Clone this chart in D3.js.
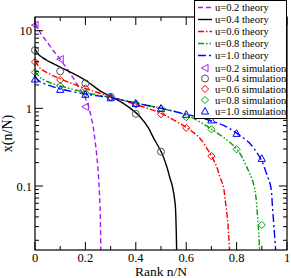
<!DOCTYPE html>
<html><head><meta charset="utf-8">
<script src="https://cdn.jsdelivr.net/npm/d3@7"></script>
<style>body{margin:0;background:#fff}svg{display:block}text{font-family:"Liberation Serif","Times New Roman",serif}</style>
</head><body><div id="c"></div>
<script>
// ---- data ----
const xTicks = [0, 0.2, 0.4, 0.6, 0.8, 1];
const xTickLabels = ["0", "0.2", "0.4", "0.6", "0.8", "1"];
const yTicks = [0.1, 1, 10];
const yTickLabels = ["0.1", "1", "10"];
const seriesNames = ["u=0.2", "u=0.4", "u=0.6", "u=0.8", "u=1.0"];

const theory02_r = [0, 0.025, 0.05, 0.075, 0.1, 0.125, 0.15, 0.175, 0.2, 0.21, 0.22, 0.23, 0.238, 0.245, 0.251, 0.255, 0.258, 0.26, 0.261];
const theory02_x = [12.5, 9.0, 7.0, 5.4, 4.3, 3.3, 2.5, 1.85, 1.35, 1.12, 0.85, 0.6, 0.39, 0.25, 0.147, 0.09, 0.054, 0.03, 0.015];

const theory04_r = [0, 0.015, 0.03, 0.05, 0.1, 0.2, 0.258, 0.3, 0.349, 0.4, 0.417, 0.45, 0.468, 0.503, 0.523, 0.536, 0.545, 0.556, 0.56, 0.562];
const theory04_x = [5.8, 4.9, 4.5, 4.1, 3.4, 2.3, 1.68, 1.42, 1.17, 0.88, 0.78, 0.56, 0.43, 0.266, 0.177, 0.125, 0.1, 0.06, 0.03, 0.015];

const theory06_r = [0, 0.02, 0.05, 0.1, 0.2, 0.3, 0.4, 0.5, 0.6, 0.628, 0.655, 0.694, 0.72, 0.734, 0.747, 0.755, 0.763, 0.769, 0.772];
const theory06_x = [4.1, 3.3, 2.85, 2.4, 1.8, 1.42, 1.12, 0.86, 0.57, 0.49, 0.41, 0.264, 0.18, 0.13, 0.1, 0.065, 0.04, 0.022, 0.015];

const theory08_r = [0, 0.02, 0.05, 0.1, 0.2, 0.3, 0.4, 0.5, 0.6, 0.7, 0.8, 0.846, 0.866, 0.875, 0.882, 0.888, 0.891];
const theory08_x = [3.0, 2.5, 2.2, 1.95, 1.6, 1.38, 1.17, 1.0, 0.82, 0.54, 0.3, 0.16, 0.11, 0.08, 0.045, 0.025, 0.015];

const theory10_r = [0, 0.02, 0.05, 0.1, 0.2, 0.3, 0.4, 0.5, 0.6, 0.68, 0.75, 0.8, 0.85, 0.88, 0.9, 0.92, 0.935, 0.943, 0.95, 0.955];
const theory10_x = [2.55, 2.2, 2.0, 1.78, 1.53, 1.37, 1.17, 1.0, 0.84, 0.72, 0.6, 0.48, 0.36, 0.27, 0.21, 0.14, 0.1, 0.05, 0.025, 0.015];

const sim02_r = [0, 0.1, 0.2];
const sim02_x = [11.8, 4.3, 1.05];
const sim04_r = [0, 0.1, 0.2, 0.3, 0.4, 0.5];
const sim04_x = [5.6, 3.0, 2.1, 1.41, 0.85, 0.277];
const sim06_r = [0, 0.1, 0.2, 0.3, 0.4, 0.5, 0.6, 0.7];
const sim06_x = [3.95, 2.32, 1.81, 1.38, 1.12, 0.84, 0.56, 0.243];
const sim08_r = [0, 0.1, 0.2, 0.3, 0.4, 0.5, 0.6, 0.7, 0.8, 0.9];
const sim08_x = [2.91, 1.94, 1.56, 1.38, 1.16, 1.0, 0.77, 0.537, 0.297, 0.0315];
const sim10_r = [0, 0.1, 0.2, 0.3, 0.4, 0.5, 0.6, 0.7, 0.8, 0.9];
const sim10_x = [2.39, 1.76, 1.52, 1.37, 1.16, 1.0, 0.84, 0.71, 0.477, 0.227];

// ---- layout ----
const W = 291, H = 278;
const m = {l: 35, r: 4, t: 17, b: 28};
const svg = d3.select("#c").append("svg").attr("width", W).attr("height", H);
const x = d3.scaleLinear().domain([0, 1]).range([m.l, W - m.r]);
const y = d3.scaleLog().domain([0.015, 15]).range([H - m.b, m.t]);

const colors = ["#a020f0", "#000000", "#ff0000", "#00a000", "#0000ff"];
const dashes = ["5,3", null, "6,2,1.5,2", "6,2,1.5,2,1.5,2", "8,3,2,3"];
const theory = [
  [theory02_r, theory02_x], [theory04_r, theory04_x], [theory06_r, theory06_x],
  [theory08_r, theory08_x], [theory10_r, theory10_x]
];
const sims = [
  [sim02_r, sim02_x], [sim04_r, sim04_x], [sim06_r, sim06_x],
  [sim08_r, sim08_x], [sim10_r, sim10_x]
];
const symbols = ["triLeft", "circle", "diamond", "diamond", "triUp"];

function markerPath(type, s) {
  const h = s;
  if (type === "triLeft") return `M${-h},0L${h*0.85},${-h}L${h*0.85},${h}Z`;
  if (type === "triUp") return `M0,${-h}L${h},${h*0.85}L${-h},${h*0.85}Z`;
  if (type === "diamond") return `M0,${-h}L${h},0L0,${h}L${-h},0Z`;
  return null;
}
function drawMarker(g, type, cx, cy, color) {
  if (type === "circle") {
    g.append("circle").attr("cx", cx).attr("cy", cy).attr("r", 3.5)
      .attr("fill", "none").attr("stroke", "#555").attr("stroke-width", 1);
  } else {
    g.append("path").attr("d", markerPath(type, 3.6))
      .attr("transform", `translate(${cx},${cy})`)
      .attr("fill", "none").attr("stroke", color).attr("stroke-width", 1);
  }
}

svg.append("clipPath").attr("id", "clp").append("rect")
  .attr("x", m.l).attr("y", m.t).attr("width", W - m.l - m.r).attr("height", H - m.t - m.b);

const plot = svg.append("g").attr("clip-path", "url(#clp)");
const line = d3.line().x(d => x(d[0])).y(d => y(d[1])).curve(d3.curveCatmullRom.alpha(0.5));

theory.forEach((t, i) => {
  const pts = t[0].map((r, j) => [r, t[1][j]]);
  plot.append("path").datum(pts).attr("d", line)
    .attr("fill", "none").attr("stroke", colors[i]).attr("stroke-width", 1.4)
    .attr("stroke-dasharray", dashes[i]);
});
sims.forEach((s, i) => {
  s[0].forEach((r, j) => drawMarker(svg, symbols[i], x(r), y(s[1][j]), colors[i]));
});

// ---- axes ----
const ax = svg.append("g");
const x0 = m.l, x1 = W - m.r, y0 = H - m.b, y1 = m.t;
ax.append("rect").attr("x", x0).attr("y", y1).attr("width", x1 - x0).attr("height", y0 - y1)
  .attr("fill", "none").attr("stroke", "#000").attr("stroke-width", 1.2);

const xMinor = d3.range(0.1, 1, 0.2);
xTicks.forEach(v => {
  ax.append("line").attr("x1", x(v)).attr("x2", x(v)).attr("y1", y0).attr("y2", y0 - 8).attr("stroke", "#000");
  ax.append("line").attr("x1", x(v)).attr("x2", x(v)).attr("y1", y1).attr("y2", y1 + 8).attr("stroke", "#000");
});
xMinor.forEach(v => {
  ax.append("line").attr("x1", x(v)).attr("x2", x(v)).attr("y1", y0).attr("y2", y0 - 4).attr("stroke", "#000");
  ax.append("line").attr("x1", x(v)).attr("x2", x(v)).attr("y1", y1).attr("y2", y1 + 4).attr("stroke", "#000");
});
xTickLabels.forEach((t, i) => {
  ax.append("text").attr("x", x(xTicks[i])).attr("y", 261.5).attr("text-anchor", "middle")
    .attr("font-size", 12.5).text(t);
});
const yMinor = [];
[0.01, 0.1, 1].forEach(d => { for (let k = 2; k <= 9; k++) { const v = d * k; if (v > 0.015 && v < 15) yMinor.push(v); } });
yTicks.forEach(v => {
  ax.append("line").attr("x1", x0).attr("x2", x0 + 8).attr("y1", y(v)).attr("y2", y(v)).attr("stroke", "#000");
  ax.append("line").attr("x1", x1).attr("x2", x1 - 8).attr("y1", y(v)).attr("y2", y(v)).attr("stroke", "#000");
});
yMinor.forEach(v => {
  ax.append("line").attr("x1", x0).attr("x2", x0 + 4).attr("y1", y(v)).attr("y2", y(v)).attr("stroke", "#000");
  ax.append("line").attr("x1", x1).attr("x2", x1 - 4).attr("y1", y(v)).attr("y2", y(v)).attr("stroke", "#000");
});
yTickLabels.forEach((t, i) => {
  ax.append("text").attr("x", x0 - 3).attr("y", y(yTicks[i]) + 4.5).attr("text-anchor", "end")
    .attr("font-size", 12.5).text(t);
});
svg.append("text").attr("x", (x0 + x1) / 2).attr("y", 276).attr("text-anchor", "middle")
  .attr("font-size", 13.5).text("Rank n/N");
svg.append("text").attr("transform", `translate(12,${(y0 + y1) / 2}) rotate(-90)`)
  .attr("text-anchor", "middle").attr("font-size", 14).text("x(n/N)");

// ---- legend ----
const lg = svg.append("g");
lg.append("rect").attr("x", 194.5).attr("y", 0.5).attr("width", 92).attr("height", 118)
  .attr("fill", "#fff").attr("stroke", "#000").attr("stroke-width", 1);
const rowsY = [7.5, 19.5, 31.5, 43.5, 55.5, 68, 78.5, 89, 100, 111];
seriesNames.forEach((n, i) => {
  const yy = rowsY[i];
  lg.append("line").attr("x1", 198).attr("x2", 212).attr("y1", yy).attr("y2", yy)
    .attr("stroke", colors[i]).attr("stroke-width", 1.4).attr("stroke-dasharray", dashes[i]);
  lg.append("text").attr("x", 215).attr("y", yy + 3.5).attr("font-size", 10.5).text(n + " theory");
});
seriesNames.forEach((n, i) => {
  const yy = rowsY[5 + i];
  drawMarker(lg, symbols[i], 205, yy, colors[i]);
  lg.append("text").attr("x", 215).attr("y", yy + 3.5).attr("font-size", 10.5).text(n + " simulation");
});
</script></body></html>
